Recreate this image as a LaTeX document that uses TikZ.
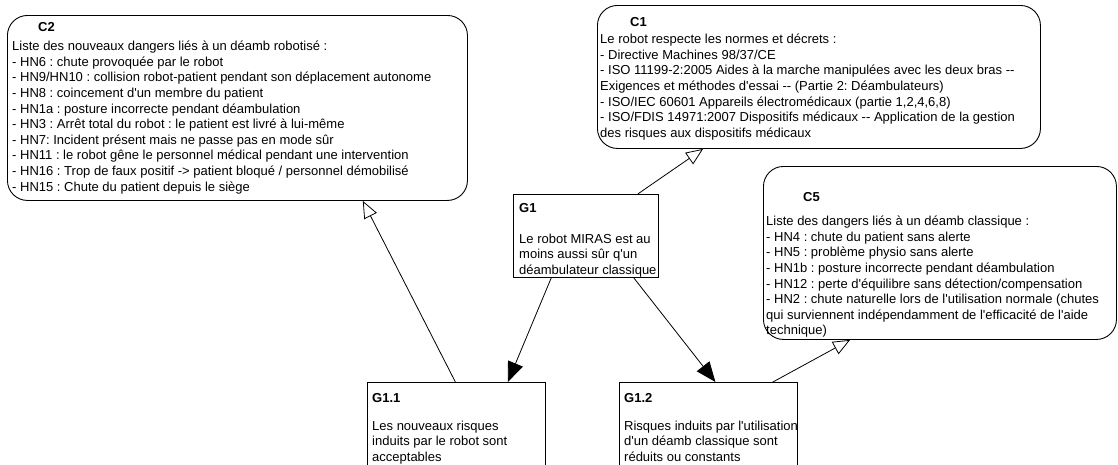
\documentclass[tikz,border=0pt]{standalone}
\usepackage{fontspec}
\newfontfamily\dgfont{Liberation Sans}
\usepackage{tikz}
\usetikzlibrary{arrows.meta,positioning,calc}

\begin{document}
\begin{tikzpicture}[x=1pt,y=-1pt,
  ctx/.style={draw, rounded corners=20pt, line width=0.9pt, inner sep=0pt, anchor=north west},
  goal/.style={draw, line width=0.9pt, inner sep=0pt, anchor=north west},
  ttl/.style={anchor=north west, inner sep=0pt, font=\dgfont\fontsize{13}{15.5}\selectfont\bfseries},
  txt/.style={anchor=north west, inner sep=0pt, align=left, font=\dgfont\fontsize{13}{15.6}\selectfont\frenchspacing},
  incontext/.style={-{Triangle[fill=white,length=17pt,width=14pt]}, line width=0.8pt},
  solvedby/.style={-{Triangle[length=20pt,width=16pt]}, line width=0.8pt}]
  \useasboundingbox (0,0) rectangle (1118,464);

  % C2
  \node[ctx, minimum width=460pt, minimum height=185pt] (c2) at (7,15) {};
  \node[ttl] (c2t) at (38,22) {C2};
  \node[txt] (c2b) at (12,41) {Liste des nouveaux dangers liés à un déamb robotisé :\\
    - HN6 : chute provoquée par le robot\\
    - HN9/HN10 : collision robot-patient pendant son déplacement autonome\\
    - HN8 : coincement d'un membre du patient\\
    - HN1a : posture incorrecte pendant déambulation\\
    - HN3 : Arrêt total du robot : le patient est livré à lui-même\\
    - HN7: Incident présent mais ne passe pas en mode sûr\\
    - HN11 : le robot gêne le personnel médical pendant une intervention\\
    - HN16 : Trop de faux positif -> patient bloqué / personnel démobilisé\\
    - HN15 : Chute du patient depuis le siège};

  % C1
  \node[ctx, minimum width=443pt, minimum height=143pt] (c1) at (597,5) {};
  \node[ttl] (c1t) at (630,17.5) {C1};
  \node[txt] (c1b) at (600,34) {Le robot respecte les normes et décrets :\\
    - Directive Machines 98/37/CE\\
    - ISO 11199-2:2005 Aides à la marche manipulées avec les deux bras --\\
    Exigences et méthodes d'essai -- (Partie 2: Déambulateurs)\\
    - ISO/IEC 60601 Appareils électromédicaux (partie 1,2,4,6,8)\\
    - ISO/FDIS 14971:2007 Dispositifs médicaux -- Application de la gestion\\
    des risques aux dispositifs médicaux};

  % C5
  \node[ctx, minimum width=353pt, minimum height=173pt] (c5) at (763,166) {};
  \node[ttl] (c5t) at (803,192.5) {C5};
  \node[txt] (c5b) at (766,216) {Liste des dangers liés à un déamb classique :\\
    - HN4 : chute du patient sans alerte\\
    - HN5 : problème physio sans alerte\\
    - HN1b : posture incorrecte pendant déambulation\\
    - HN12 : perte d'équilibre sans détection/compensation\\
    - HN2 : chute naturelle lors de l'utilisation normale (chutes\\
    qui surviennent indépendamment de l'efficacité de l'aide\\
    technique)};

  % G1
  \node[goal, minimum width=145pt, minimum height=83pt] (g1) at (513,194) {};
  \node[ttl] (g1t) at (519,203.5) {G1};
  \node[txt] (g1b) at (519,233.5) {Le robot MIRAS est au\\moins aussi sûr q'un\\déambulateur classique};

  % G1.1
  \node[goal, minimum width=178pt, minimum height=90pt] (g11) at (367,382) {};
  \node[ttl] (g11t) at (372,393.5) {G1.1};
  \node[txt] (g11b) at (372,420.5) {Les nouveaux risques\\induits par le robot sont\\acceptables};

  % G1.2
  \node[goal, minimum width=178pt, minimum height=90pt] (g12) at (619,382) {};
  \node[ttl] (g12t) at (624,393.5) {G1.2};
  \node[txt] (g12b) at (624,420.5) {Risques induits par l'utilisation\\d'un déamb classique sont\\réduits ou constants};

  % links
  \draw[solvedby] ($(g1.south west)!.262!(g1.south east)$) -- ($(g11.north west)!.787!(g11.north east)$);
  \draw[solvedby] ($(g1.south west)!.828!(g1.south east)$) -- ($(g12.north west)!.539!(g12.north east)$);
  \draw[incontext] ($(g11.north west)!.494!(g11.north east)$) -- ($(c2.south west)!.772!(c2.south east)$);
  \draw[incontext] ($(g1.north west)!.855!(g1.north east)$) -- ($(c1.south west)!.239!(c1.south east)$);
  \draw[incontext] ($(g12.north west)!.86!(g12.north east)$) -- ($(c5.south west)!.246!(c5.south east)$);
\end{tikzpicture}
\end{document}
